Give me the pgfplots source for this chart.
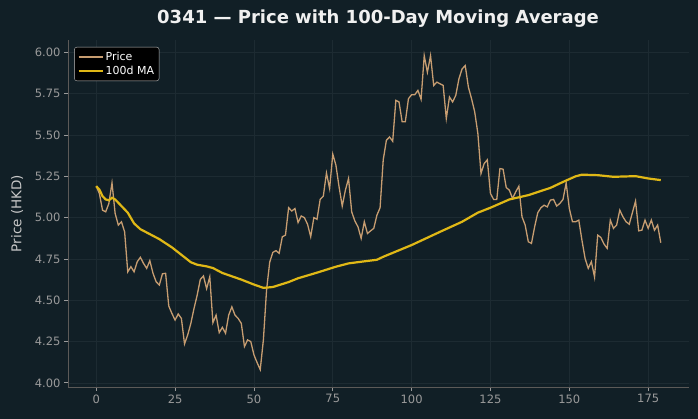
\documentclass[border=0pt]{standalone}
\usepackage{pgfplots}
\pgfplotsset{compat=1.18}
\usepackage{pgfplotstable}
\usepackage{fontspec}
\setmainfont{DejaVu Sans}

\definecolor{bgcol}{HTML}{111F26}
\definecolor{pricecol}{HTML}{C79D71}
\definecolor{macol}{HTML}{E0B816}
\definecolor{tickcol}{HTML}{9A9A9A}
\definecolor{spinecol}{HTML}{5C5A58}
\definecolor{gridcol}{HTML}{1D2B32}
\definecolor{labelcol}{HTML}{C8C8C8}

% daily closing price
\pgfplotstableread{
x y
0 5.19
1 5.146
2 5.045
3 5.035
4 5.085
5 5.21
6 5.025
7 4.955
8 4.975
9 4.914
10 4.672
11 4.703
12 4.672
13 4.733
14 4.76
15 4.723
16 4.693
17 4.74
18 4.663
19 4.612
20 4.592
21 4.66
22 4.663
23 4.465
24 4.42
25 4.38
26 4.417
27 4.39
28 4.236
29 4.29
30 4.36
31 4.45
32 4.53
33 4.626
34 4.647
35 4.57
36 4.642
37 4.364
38 4.41
39 4.304
40 4.336
41 4.30
42 4.41
43 4.46
44 4.41
45 4.39
46 4.36
47 4.22
48 4.26
49 4.25
50 4.17
51 4.123
52 4.08
53 4.26
54 4.56
55 4.73
56 4.79
57 4.80
58 4.784
59 4.884
60 4.894
61 5.06
62 5.04
63 5.055
64 4.97
65 5.01
66 5.00
67 4.96
68 4.884
69 5.00
70 4.99
71 5.11
72 5.13
73 5.27
74 5.176
75 5.384
76 5.317
77 5.186
78 5.07
79 5.166
80 5.237
81 5.035
82 4.98
83 4.944
84 4.874
85 4.975
86 4.904
87 4.92
88 4.935
89 5.015
90 5.06
91 5.35
92 5.468
93 5.488
94 5.462
95 5.71
96 5.70
97 5.58
98 5.58
99 5.72
100 5.744
101 5.744
102 5.77
103 5.716
104 5.98
105 5.88
106 5.98
107 5.80
108 5.82
109 5.81
110 5.80
111 5.60
112 5.73
113 5.70
114 5.74
115 5.84
116 5.90
117 5.92
118 5.79
119 5.72
120 5.64
121 5.51
122 5.267
123 5.327
124 5.35
125 5.146
126 5.11
127 5.11
128 5.297
129 5.293
130 5.182
131 5.166
132 5.116
133 5.156
134 5.19
135 5.005
136 4.955
137 4.854
138 4.844
139 4.944
140 5.03
141 5.06
142 5.075
143 5.065
144 5.106
145 5.11
146 5.07
147 5.086
148 5.11
149 5.21
150 5.055
151 4.975
152 4.975
153 4.985
154 4.864
155 4.753
156 4.693
157 4.733
158 4.64
159 4.894
160 4.88
161 4.84
162 4.814
163 4.985
164 4.935
165 4.955
166 5.045
167 5.005
168 4.975
169 4.96
170 5.03
171 5.10
172 4.92
173 4.924
174 4.985
175 4.935
176 4.985
177 4.924
178 4.955
179 4.848
}\pricetable

% 100-day moving average
\pgfplotstableread{
x y
0 5.19
1 5.17
2 5.13
3 5.11
4 5.105
5 5.12
6 5.11
7 5.09
8 5.07
10 5.03
12 4.965
14 4.93
16 4.91
18 4.89
20 4.87
22 4.845
24 4.82
26 4.79
28 4.76
30 4.73
32 4.715
35 4.705
37 4.695
40 4.665
43 4.645
46 4.625
50 4.595
53 4.575
56 4.58
61 4.61
64 4.633
70 4.667
76 4.703
80 4.723
84 4.733
89 4.745
91 4.763
100 4.834
109 4.914
116 4.975
121 5.03
125 5.06
131 5.11
137 5.136
144 5.18
148 5.216
152 5.25
154 5.26
159 5.257
164 5.247
171 5.251
175 5.237
179 5.227
}\matable

\begin{document}
\begin{tikzpicture}[x=1pt,y=1pt]
\fill[bgcol] (0,0) rectangle (698,419);
\node[text=white!94!black, font=\fontsize{18}{21}\selectfont\bfseries] at (378,400) {0341 — Price with 100-Day Moving Average};
\begin{axis}[
  at={(68pt,32pt)}, anchor=south west,
  scale only axis, width=621pt, height=347pt,
  xmin=-8.95, xmax=187.95, ymin=3.975, ymax=6.075,
  axis x line*=bottom, axis y line*=left,
  axis line style={spinecol, line width=0.8pt, -},
  xtick={0,25,...,175},
  ytick={4,4.25,...,6},
  yticklabel style={/pgf/number format/.cd, fixed, fixed zerofill, precision=2},
  /pgf/number format/assume math mode=true,
  tick label style={text=tickcol, font=\fontsize{11.5}{13}\selectfont},
  tick style={tickcol, line width=0.8pt},
  tick align=outside, major tick length=4pt,
  grid=major, major grid style={gridcol, line width=0.6pt},
  ylabel={Price (HKD)},
  every axis y label/.style={at={(axis description cs:-0.082,0.5)}, rotate=90, anchor=center},
  ylabel style={text=labelcol, font=\fontsize{13.5}{16}\selectfont},
  legend style={at={(0.01,0.98)}, anchor=north west, fill=black, draw=white!75!black,
    rounded corners=2.5pt, text=white, font=\fontsize{11}{13}\selectfont,
    inner xsep=3pt, inner ysep=3pt, row sep=0pt},
  legend cell align=left,
  legend image code/.code={\draw[#1] (0pt,0pt) -- (24pt,0pt);},
]
\addplot[pricecol, line width=1.3pt] table {\pricetable};
\addlegendentry{Price}
\addplot[macol, line width=2.2pt] table {\matable};
\addlegendentry{100d MA}
\end{axis}
\end{tikzpicture}
\end{document}
